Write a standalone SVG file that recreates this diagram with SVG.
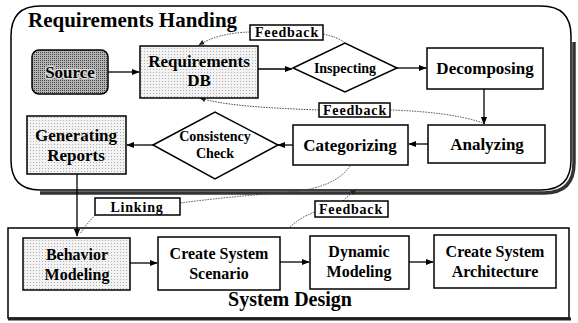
<svg xmlns="http://www.w3.org/2000/svg" width="578" height="323" viewBox="0 0 578 323">
<style>
text{font-family:"Liberation Serif","Times New Roman",serif;font-weight:bold;fill:#000;text-anchor:middle}
.n{font-size:17px}
.s{font-size:16px}
.d{font-size:14px}
.l{font-size:14px;letter-spacing:0.8px}
.box{fill:#fff;stroke:#000;stroke-width:1.5}
.dot{fill:url(#dots);stroke:#000;stroke-width:1.5}
.c{fill:none;stroke:#000;stroke-width:1.3}
.f{fill:none;stroke:#444;stroke-width:1;stroke-dasharray:1.5 1.2}
</style>
<defs>
<pattern id="dots" width="3" height="3" patternUnits="userSpaceOnUse"><rect width="3" height="3" fill="#f3f3f3"/><rect width="1" height="1" fill="#b0b0b0"/></pattern>
<pattern id="grey" width="2" height="2" patternUnits="userSpaceOnUse"><rect width="2" height="2" fill="#b4b4b4"/><rect width="1" height="1" fill="#444"/></pattern>
<marker id="a" viewBox="0 0 10 10" refX="9" refY="5" markerWidth="6" markerHeight="6" orient="auto-start-reverse"><path d="M0,1 L10,5 L0,9 z" fill="#000"/></marker>
<marker id="af" viewBox="0 0 10 10" refX="9" refY="5" markerWidth="6" markerHeight="6" orient="auto"><path d="M0,1 L10,5 L0,9 z" fill="#222"/></marker>
</defs>
<rect width="578" height="323" fill="#fff"/>

<g id="requirements-handing">
<path d="M574,42 L574,163 Q574,193 544,193 L40,193" fill="none" stroke="#333" stroke-width="3.5"/>
<path d="M40,6 L541,6 Q571,6 571,36 L571,160 Q571,190 541,190 L40,190 Q11,190 11,160 L11,36 Q11,6 40,6 Z" fill="none" stroke="#000" stroke-width="1.5"/>
<text x="28" y="27" style="font-size:21px;text-anchor:start">Requirements Handing</text>
</g>

<g id="system-design">
<rect x="8" y="228" width="561" height="90" fill="none" stroke="#000" stroke-width="1.5"/>
<line x1="8" y1="319" x2="571" y2="319" stroke="#222" stroke-width="3"/>
<text x="290" y="306" style="font-size:20px">System Design</text>
</g>

<g id="connectors">
<line class="c" x1="108" y1="72" x2="139" y2="72" marker-end="url(#a)"/>
<line class="c" x1="258" y1="69" x2="292" y2="69" marker-end="url(#a)"/>
<line class="c" x1="397" y1="68" x2="426" y2="68" marker-end="url(#a)"/>
<line class="c" x1="484" y1="89" x2="484" y2="124" marker-end="url(#a)"/>
<line class="c" x1="428" y1="144" x2="409" y2="144" marker-end="url(#a)"/>
<line class="c" x1="293" y1="145" x2="278" y2="145" marker-end="url(#a)"/>
<line class="c" x1="153" y1="145" x2="127" y2="145" marker-end="url(#a)"/>
<line class="c" x1="77" y1="174" x2="77" y2="236" marker-end="url(#a)"/>
<line class="c" x1="130" y1="263" x2="157" y2="263" marker-end="url(#a)"/>
<line class="c" x1="280" y1="262" x2="309" y2="262" marker-end="url(#a)"/>
<line class="c" x1="409" y1="262" x2="433" y2="262" marker-end="url(#a)"/>
<path class="f" d="M250,32 Q218,33 199,45" marker-end="url(#af)"/>
<path class="f" d="M323,34 Q338,37 345,43"/>
<path class="f" d="M319,110 C262,108 222,105 200,98" marker-end="url(#af)"/>
<path class="f" d="M390,110 Q452,112 483,123"/>
<path class="f" d="M350,166 Q335,188 290,192 Q225,197 180,203"/>
<path class="f" d="M97,213 Q88,222 80,234"/>
<path class="f" d="M288,229 Q300,217 315,212"/>
<path class="f" d="M343,201 Q350,194 356,190" marker-end="url(#af)"/>
</g>

<g id="source">
<rect x="32" y="50" width="76" height="44" rx="7" fill="url(#grey)" stroke="#000" stroke-width="1.5"/>
<text x="70" y="78" class="n" style="stroke:#ddd;stroke-width:2.5;paint-order:stroke">Source</text>
</g>
<g id="requirements-db">
<rect x="140" y="46" width="118" height="52" class="dot"/>
<text x="199" y="67" class="n">Requirements</text>
<text x="199" y="86" class="n">DB</text>
</g>
<g id="inspecting">
<polygon points="293,68 345,43 397,68 345,92" class="box"/>
<text x="345" y="73" class="d">Inspecting</text>
</g>
<g id="decomposing">
<rect x="427" y="48" width="116" height="41" class="box"/>
<text x="485" y="74" class="n">Decomposing</text>
</g>
<g id="analyzing">
<rect x="428" y="125" width="117" height="38" class="box"/>
<text x="487" y="150" class="n">Analyzing</text>
</g>
<g id="categorizing">
<rect x="293" y="125" width="115" height="40" class="box"/>
<text x="350" y="151" class="n">Categorizing</text>
</g>
<g id="consistency-check">
<polygon points="153,145 215,112 278,145 215,179" class="box"/>
<text x="215" y="141" class="d">Consistency</text>
<text x="215" y="158" class="d">Check</text>
</g>
<g id="generating-reports">
<rect x="27" y="116" width="99" height="58" class="dot"/>
<text x="76" y="141" class="n">Generating</text>
<text x="76" y="161" class="n">Reports</text>
</g>
<g id="feedback-top">
<rect x="250" y="25" width="73" height="15" class="box"/>
<text x="287" y="37" class="l">Feedback</text>
</g>
<g id="feedback-mid">
<rect x="319" y="103" width="71" height="14" class="box"/>
<text x="355" y="115" class="l">Feedback</text>
</g>
<g id="linking">
<rect x="95" y="198" width="85" height="17" class="box"/>
<text x="137" y="212" class="l">Linking</text>
</g>
<g id="feedback-low">
<rect x="315" y="201" width="73" height="16" class="box"/>
<text x="351" y="214" class="l">Feedback</text>
</g>
<g id="behavior-modeling">
<rect x="23" y="238" width="107" height="52" class="dot"/>
<text x="77" y="260" class="s">Behavior</text>
<text x="77" y="280" class="s">Modeling</text>
</g>
<g id="create-system-scenario">
<rect x="158" y="237" width="122" height="53" class="box"/>
<text x="219" y="259" class="s">Create System</text>
<text x="219" y="279" class="s">Scenario</text>
</g>
<g id="dynamic-modeling">
<rect x="310" y="236" width="99" height="53" class="box"/>
<text x="359" y="257" class="s">Dynamic</text>
<text x="359" y="277" class="s">Modeling</text>
</g>
<g id="create-system-architecture">
<rect x="434" y="235" width="122" height="53" class="box"/>
<text x="495" y="257" class="s">Create System</text>
<text x="495" y="277" class="s">Architecture</text>
</g>
</svg>
